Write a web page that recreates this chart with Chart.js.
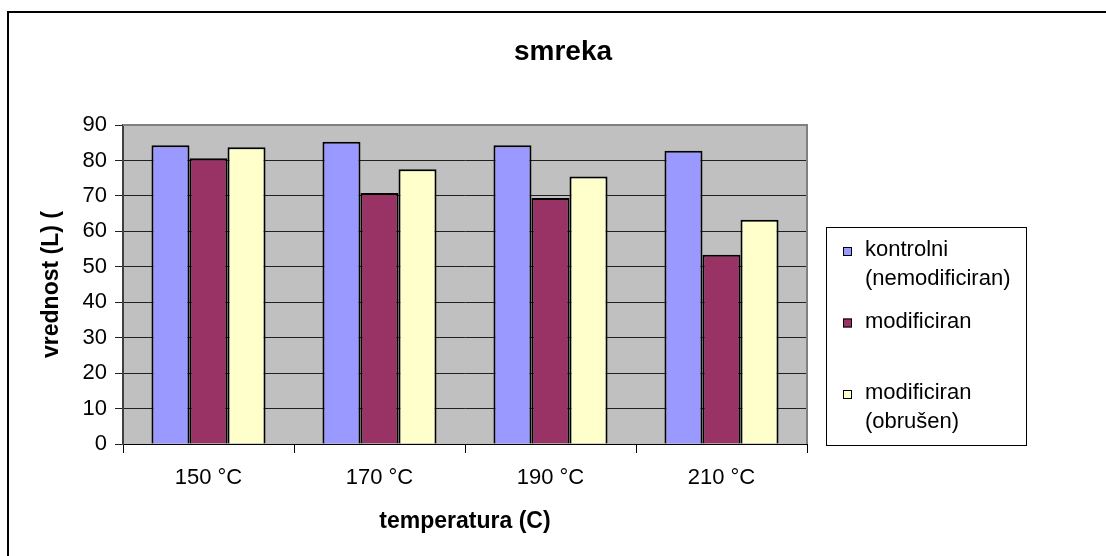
<!DOCTYPE html>
<html>
<head>
<meta charset="utf-8">
<script src="https://cdn.jsdelivr.net/npm/chart.js@4.4.1/dist/chart.umd.min.js"></script>
<style>
  html, body { margin: 0; padding: 0; background: #fff; }
  #wrap { width: 1106px; height: 556px; }
</style>
</head>
<body>
<div id="wrap"><canvas id="chart" width="1106" height="556"></canvas></div>
<script>
// --- Data ---
const categories = ['150 °C', '170 °C', '190 °C', '210 °C'];
const kontrolni = [84.3, 85.3, 84.3, 82.7];
const modificiran = [80.6, 70.8, 69.4, 53.4];
const obrusen = [83.7, 77.5, 75.5, 63.3];
const seriesLabels = [['kontrolni', '(nemodificiran)'], ['modificiran'], ['modificiran', '(obrušen)']];
const yTicks = [0, 10, 20, 30, 40, 50, 60, 70, 80, 90];
const chartTitle = 'smreka';

const colors = ['#9999FF', '#993366', '#FFFFCC'];
const textFont = 'Liberation Sans';

// grey plot background, outer frame lines and the title
const backgroundPlugin = {
    id: 'background',
    beforeDraw(chart) {
        const { ctx, chartArea: a } = chart;
        ctx.save();
        ctx.fillStyle = '#fff';
        ctx.fillRect(0, 0, chart.width, chart.height);
        ctx.fillStyle = '#C0C0C0';
        ctx.fillRect(a.left, a.top, a.right - a.left, a.bottom - a.top);
        // outer chart frame (only top/left visible in the picture)
        ctx.strokeStyle = '#000';
        ctx.lineWidth = 2;
        ctx.beginPath();
        ctx.moveTo(8, chart.height);
        ctx.lineTo(8, 12);
        ctx.lineTo(chart.width, 12);
        ctx.stroke();
        // title
        ctx.fillStyle = '#000';
        ctx.font = 'bold 28px "' + textFont + '"';
        ctx.textAlign = 'center';
        ctx.textBaseline = 'middle';
        ctx.fillText(chartTitle, 563, 52);
        ctx.restore();
    },
    afterDatasetsDraw(chart) {
        const { ctx, chartArea: a } = chart;
        ctx.save();
        ctx.strokeStyle = '#808080';
        ctx.lineWidth = 2;
        ctx.beginPath();
        ctx.moveTo(a.left, a.top);
        ctx.lineTo(a.right, a.top);
        ctx.lineTo(a.right, a.bottom);
        ctx.stroke();
        ctx.restore();
    }
};

// legend box on the right, with wrapped labels
const legendPlugin = {
    id: 'boxLegend',
    afterDraw(chart) {
        const ctx = chart.ctx;
        ctx.save();
        ctx.strokeStyle = '#000';
        ctx.lineWidth = 1;
        ctx.strokeRect(826.5, 227.5, 200, 218);
        ctx.font = '22px "' + textFont + '"';
        ctx.textBaseline = 'middle';
        chart.data.datasets.forEach((ds, i) => {
            const y0 = 250 + i * 71.5;
            ctx.fillStyle = ds.backgroundColor;
            ctx.fillRect(843, y0 - 3, 9, 9);
            ctx.strokeStyle = '#000';
            ctx.strokeRect(843.5, y0 - 2.5, 8, 8);
            ctx.fillStyle = '#000';
            seriesLabels[i].forEach((line, j) => {
                ctx.fillText(line, 865, y0 + j * 29);
            });
        });
        ctx.restore();
    }
};

const ctx = document.getElementById('chart').getContext('2d');
const chart = new Chart(ctx, {
    type: 'bar',
    data: {
        labels: categories,
        datasets: [kontrolni, modificiran, obrusen].map((values, i) => ({
            label: seriesLabels[i].join(' '),
            data: values,
            backgroundColor: colors[i],
            borderColor: '#000',
            borderWidth: 2,
            categoryPercentage: 0.667,
            barPercentage: 1.0
        }))
    },
    options: {
        responsive: false,
        animation: false,
        layout: { padding: { left: 0, right: 299, top: 125, bottom: 0 } },
        plugins: {
            legend: { display: false },
            tooltip: { enabled: false },
            title: { display: false }
        },
        scales: {
            x: {
                offset: true,
                afterFit: (s) => { s.height = 112; },
                grid: { offset: true, drawOnChartArea: false, drawTicks: true, tickLength: 9, color: '#000' },
                border: { color: '#000', width: 1 },
                ticks: { color: '#000', padding: 12, font: { family: textFont, size: 22 } },
                title: {
                    display: true,
                    text: 'temperatura (C)',
                    color: '#000',
                    font: { family: textFont, size: 23, weight: 'bold' },
                    padding: { top: 0, bottom: 21 }
                }
            },
            y: {
                min: 0,
                max: 90,
                afterFit: (s) => { s.width = 123; },
                afterBuildTicks: (s) => { s.ticks = yTicks.map(v => ({ value: v })); },
                grid: { color: '#202020', lineWidth: 1, tickLength: 8 },
                border: { color: '#404040', width: 2 },
                ticks: { color: '#000', padding: 8, font: { family: textFont, size: 22 } },
                title: {
                    display: true,
                    text: 'vrednost (L) (',
                    color: '#000',
                    font: { family: textFont, size: 23, weight: 'bold' },
                    padding: { top: 38, bottom: 0 }
                }
            }
        }
    },
    plugins: [backgroundPlugin, legendPlugin]
});
</script>
</body>
</html>
